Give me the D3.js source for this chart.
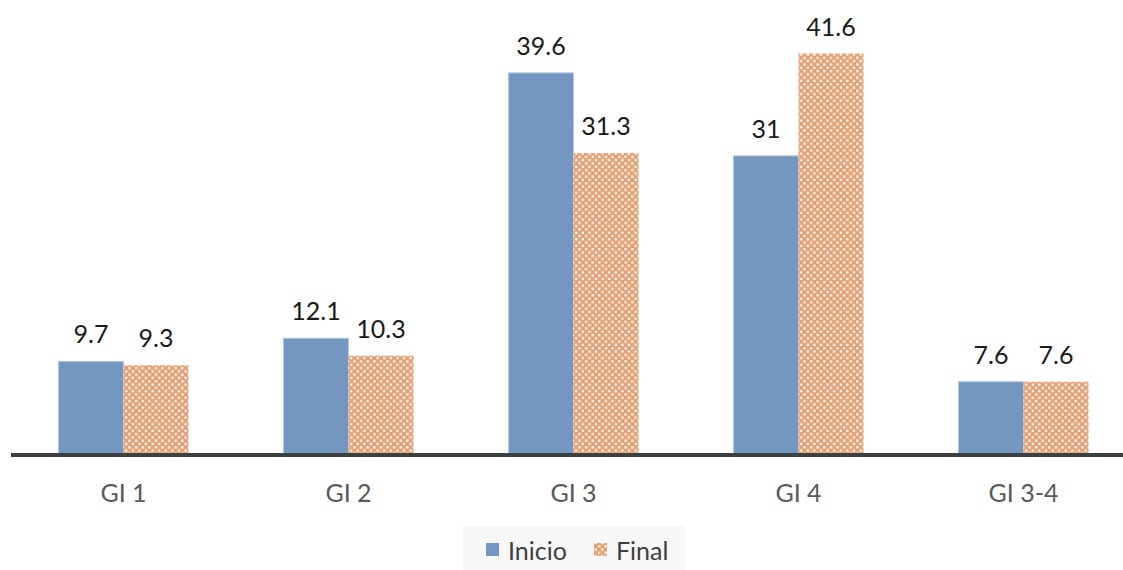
<!DOCTYPE html>
<html lang="es">
  <head>
    <meta charset="UTF-8" />
    <title>Inicio vs Final</title>
    <script src="https://d3js.org/d3.v7.min.js"></script>
    <style>
      body {
        margin: 0;
        background: #fff;
        font-family: Lato, "Open Sans", sans-serif;
      }
    </style>
  </head>
  <body>
    <div id="chart"></div>
    <script>
      const categories = ["GI 1", "GI 2", "GI 3", "GI 4", "GI 3-4"];
      const series = ["Inicio", "Final"];
      const inicio = [9.7, 12.1, 39.6, 31, 7.6];
      const final = [9.3, 10.3, 31.3, 41.6, 7.6];

      const width = 1123;
      const height = 570;
      const baseY = 455;

      const svg = d3
        .select("#chart")
        .append("svg")
        .attr("width", width)
        .attr("height", height);

      // patrón de cuadros para la serie "Final"
      const defs = svg.append("defs");
      const pat = defs
        .append("pattern")
        .attr("id", "checker")
        .attr("patternUnits", "userSpaceOnUse")
        .attr("width", 6.6)
        .attr("height", 6.6);
      pat.append("rect").attr("width", 6.6).attr("height", 6.6).attr("fill", "#e4a072");
      pat.append("rect").attr("x", 0.6).attr("y", 0.6).attr("width", 2.3).attr("height", 2.3).attr("fill", "#fff");
      pat.append("rect").attr("x", 3.9).attr("y", 3.9).attr("width", 2.3).attr("height", 2.3).attr("fill", "#fff");

      const x0 = d3
        .scaleBand()
        .domain(categories)
        .range([11, 1136])
        .paddingInner(0.422)
        .paddingOuter(0.211);

      const x1 = d3.scaleBand().domain(series).range([0, x0.bandwidth()]);

      const y = d3.scaleLinear().domain([0, 45]).range([baseY, baseY - 45 * 9.65]);

      const fills = { Inicio: "#7497c1", Final: "url(#checker)" };

      const rows = categories.map((c, i) => ({
        cat: c,
        vals: [
          { s: "Inicio", v: inicio[i] },
          { s: "Final", v: final[i] },
        ],
      }));

      const groups = svg
        .selectAll(".grp")
        .data(rows)
        .enter()
        .append("g")
        .attr("transform", (d) => `translate(${x0(d.cat)},0)`);

      groups
        .selectAll("rect")
        .data((d) => d.vals)
        .enter()
        .append("rect")
        .attr("x", (d) => x1(d.s))
        .attr("y", (d) => y(d.v))
        .attr("width", x1.bandwidth())
        .attr("height", (d) => baseY - y(d.v))
        .attr("fill", (d) => fills[d.s])
        .attr("stroke", (d) => (d.s === "Inicio" ? "#b4c6dd" : "none"))
        .attr("stroke-width", 1);

      groups
        .selectAll("text")
        .data((d) => d.vals)
        .enter()
        .append("text")
        .attr("x", (d) => x1(d.s) + x1.bandwidth() / 2)
        .attr("y", (d) => y(d.v) - 18)
        .attr("text-anchor", "middle")
        .attr("font-size", 25)
        .attr("fill", "#1a1a1a")
        .text((d) => String(d.v));

      // eje x
      svg
        .append("line")
        .attr("x1", 11)
        .attr("x2", width)
        .attr("y1", baseY)
        .attr("y2", baseY)
        .attr("stroke", "#3b4040")
        .attr("stroke-width", 4);

      svg
        .selectAll(".cat")
        .data(categories)
        .enter()
        .append("text")
        .attr("x", (d) => x0(d) + x0.bandwidth() / 2)
        .attr("y", 502)
        .attr("text-anchor", "middle")
        .attr("font-size", 25)
        .attr("fill", "#595959")
        .text((d) => d);

      // leyenda
      const lg = svg.append("g");
      lg.append("rect")
        .attr("x", 463)
        .attr("y", 526)
        .attr("width", 222)
        .attr("height", 44)
        .attr("fill", "#f7f7f7");
      lg.append("rect")
        .attr("x", 486)
        .attr("y", 543)
        .attr("width", 13)
        .attr("height", 13)
        .attr("fill", "#7497c1");
      lg.append("text")
        .attr("x", 508)
        .attr("y", 560)
        .attr("font-size", 25)
        .attr("fill", "#404040")
        .text("Inicio");
      lg.append("rect")
        .attr("x", 594)
        .attr("y", 543)
        .attr("width", 13)
        .attr("height", 13)
        .attr("fill", "url(#checker)");
      lg.append("text")
        .attr("x", 616)
        .attr("y", 560)
        .attr("font-size", 25)
        .attr("fill", "#404040")
        .text("Final");
    </script>
  </body>
</html>
